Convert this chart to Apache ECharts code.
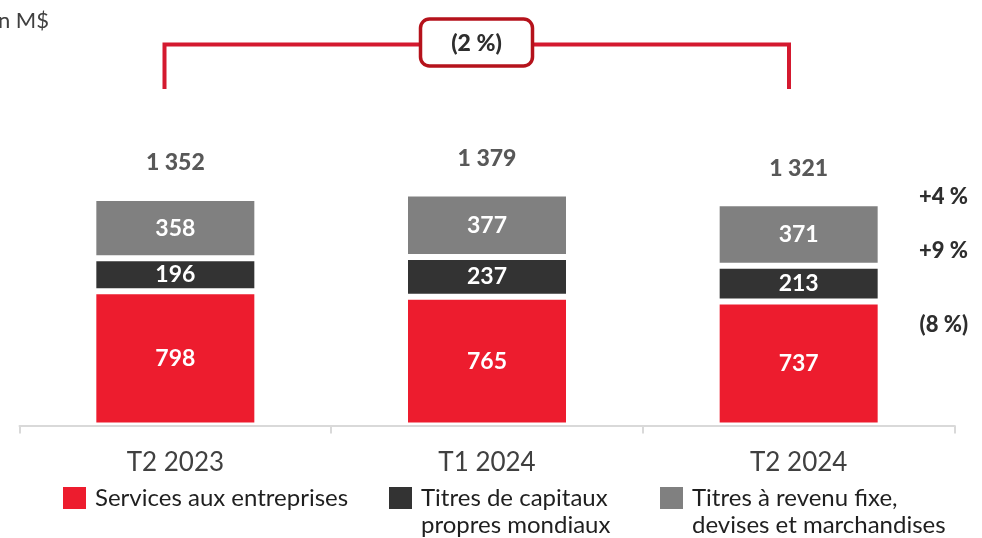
<!DOCTYPE html>
<html>
<head>
<meta charset="utf-8">
<style>
  html, body { margin: 0; padding: 0; background: #ffffff; }
  #chart { width: 982px; height: 538px; }
</style>
<script src="https://cdn.jsdelivr.net/npm/echarts@6/dist/echarts.min.js"></script>
</head>
<body>
<div id="chart"></div>
<script>
// Quarterly revenue by business line (M$)
const quarters = ['T2 2023', 'T1 2024', 'T2 2024'];
const seriesNames = [
  'Services aux entreprises',
  'Titres de capitaux\npropres mondiaux',
  'Titres à revenu fixe,\ndevises et marchandises'
];
const corporateServices = [798, 765, 737];
const globalEquities = [196, 237, 213];
const fixedIncomeFx = [358, 377, 371];

const FONT = 'Lato, "Open Sans", sans-serif';
const TEXT_DARK = '#404040';
const TEXT_BOLD = '#2e2e2e';
const COLORS = ['#ED1C2E', '#333333', '#808080'];

const totals = quarters.map((_, i) => corporateServices[i] + globalEquities[i] + fixedIncomeFx[i]);

// French number formatting: space as thousands separator
function fmtNumber(v) {
  return String(v).replace(/\B(?=(\d{3})+(?!\d))/g, ' ');
}
// Change between first and last quarter: positive "+4 %", negative "(8 %)"
function fmtChange(now, before) {
  const pct = Math.round((now / before - 1) * 100);
  return pct >= 0 ? '+' + pct + ' %' : '(' + Math.abs(pct) + ' %)';
}

const last = quarters.length - 1;
const changeFixedIncome = fmtChange(fixedIncomeFx[last], fixedIncomeFx[0]);
const changeEquities = fmtChange(globalEquities[last], globalEquities[0]);
const changeCorporate = fmtChange(corporateServices[last], corporateServices[0]);
const changeTotal = fmtChange(totals[last], totals[0]);

const segmentLabel = {
  show: true,
  position: 'inside',
  color: '#ffffff',
  fontFamily: FONT,
  fontWeight: 'bold',
  fontSize: 23
};

function barSeries(name, data, color) {
  return {
    name: name,
    type: 'bar',
    stack: 'total',
    data: data,
    barWidth: 164,
    itemStyle: { color: color, borderColor: '#ffffff', borderWidth: 3 },
    label: segmentLabel,
    emphasis: { disabled: true }
  };
}

// One legend block per series; multi-line names keep the icon beside the first line
function legendBlock(name, left, top, twoLines) {
  return {
    data: [name],
    left: left,
    top: top,
    padding: 0,
    orient: 'horizontal',
    selectedMode: false,
    itemWidth: 25,
    itemHeight: 24,
    icon: 'rect',
    formatter: n => (twoLines ? '\n' + n : n),
    textStyle: {
      fontFamily: FONT,
      fontSize: 24,
      color: '#1f1f1f',
      lineHeight: 27,
      padding: [0, 0, 0, 3]
    }
  };
}

function changeText(text, y) {
  return {
    type: 'text', x: 968, y: y,
    style: {
      text: text, fontFamily: FONT, fontWeight: 900, fontSize: 22,
      fill: TEXT_BOLD, align: 'right', verticalAlign: 'middle'
    }
  };
}

const chart = echarts.init(document.getElementById('chart'), null, { renderer: 'canvas' });

chart.setOption({
  animation: false,
  backgroundColor: '#ffffff',
  grid: { left: 19.5, right: 27.5, top: 156.3, bottom: 112.5 },
  xAxis: {
    type: 'category',
    data: quarters,
    z: 5,
    axisLine: { show: true, lineStyle: { color: '#d9d9d9', width: 2 } },
    axisTick: { show: true, length: 8, lineStyle: { color: '#d9d9d9', width: 2 } },
    axisLabel: { fontFamily: FONT, fontSize: 26, color: TEXT_DARK, margin: 24 }
  },
  yAxis: { type: 'value', min: 0, max: 1600, show: false, splitLine: { show: false } },
  legend: [
    legendBlock(seriesNames[0], 61, 484.5, false),
    legendBlock(seriesNames[1], 387, 457.5, true),
    legendBlock(seriesNames[2], 658, 457.5, true)
  ],
  series: [
    barSeries(seriesNames[0], corporateServices, COLORS[0]),
    barSeries(seriesNames[1], globalEquities, COLORS[1]),
    barSeries(seriesNames[2], fixedIncomeFx, COLORS[2]),
    {
      name: 'Total',
      type: 'scatter',
      data: totals,
      symbolSize: 1,
      itemStyle: { color: 'rgba(0,0,0,0)' },
      label: {
        show: true,
        position: 'top',
        distance: 23.5,
        formatter: p => fmtNumber(p.value),
        fontFamily: FONT,
        fontWeight: 900,
        fontSize: 23,
        lineHeight: 22,
        color: TEXT_BOLD
      },
      emphasis: { disabled: true },
      z: 4
    }
  ],
  graphic: [
    {
      type: 'text',
      x: 49, y: 21,
      style: {
        text: 'En M$', fontFamily: FONT, fontSize: 22, fill: TEXT_DARK,
        align: 'right', verticalAlign: 'middle'
      }
    },
    // bracket spanning first to last quarter
    {
      type: 'polyline',
      shape: { points: [[164.5, 89], [164.5, 44.5], [789, 44.5], [789, 89]] },
      style: { stroke: '#D4192F', lineWidth: 4, fill: null }
    },
    {
      type: 'rect',
      shape: { x: 420.5, y: 19, width: 112, height: 47, r: 9 },
      style: { fill: '#ffffff', stroke: '#B5121B', lineWidth: 3.5 },
      z: 10
    },
    {
      type: 'text',
      x: 476.5, y: 43.5,
      style: {
        text: changeTotal, fontFamily: FONT, fontWeight: 900, fontSize: 23,
        fill: TEXT_BOLD, align: 'center', verticalAlign: 'middle'
      },
      z: 11
    },
    // change by business line
    changeText(changeFixedIncome, 196.5),
    changeText(changeEquities, 251),
    changeText(changeCorporate, 325)
  ]
});
</script>
</body>
</html>
